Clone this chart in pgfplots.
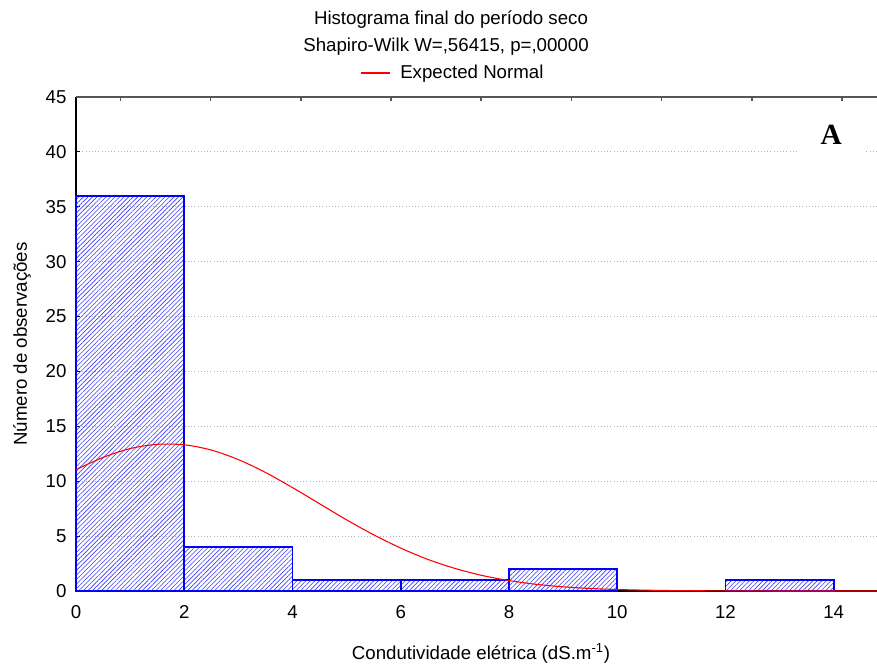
\documentclass[border=0pt]{standalone}
\usepackage{fontspec}
\setmainfont{Liberation Sans}
\newfontfamily\serifA{Liberation Serif}
\usepackage{pgfplots}
\pgfplotsset{compat=1.18}
\usetikzlibrary{patterns.meta}
\definecolor{topgray}{RGB}{85,85,85}
\definecolor{hatch}{RGB}{60,60,255}
\begin{document}
\begin{tikzpicture}[font=\fontsize{14}{16.8}\selectfont]
\begin{axis}[
  at={(0,0)}, anchor=south west,
  scale only axis, width=600.75pt, height=370.5pt,
  xmin=0, xmax=14.8, ymin=0, ymax=45,
  axis x line*=bottom, axis y line*=left,
  x axis line style={black, line width=1pt, -},
  y axis line style={black, line width=0.8pt, -},
  xtick={0,2,4,6,8,10,12,14},
  ytick={0,5,10,15,20,25,30,35,40,45},
  major x tick style={draw=none},
  major y tick style={black, line width=0.6pt},
  tick align=inside, major tick length=3pt,
  ymajorgrids,
  grid style={gray!60, dotted, line width=0.6pt},
  /pgf/number format/assume math mode=true,
  tick label style={font=\fontsize{14}{16.8}\selectfont},
  xticklabel style={yshift=-7.3pt},
  yticklabel style={xshift=-3.6pt},
  xlabel={Condutividade elétrica (dS.m\textsuperscript{-1})},
  ylabel={Número de observações},
  xlabel style={at={(axis description cs:0.5056,-0.1377)}, anchor=base},
  ylabel style={at={(axis description cs:-0.0674,0.5)}, anchor=center},
  clip=false,
]
\addplot[ybar interval, draw=blue, line width=1.3pt,
  pattern={Lines[angle=45,distance=2.4pt,line width=0.45pt]}, pattern color=hatch]
  coordinates {(0,36) (2,4) (4,1) (6,1) (8,2) (10,2)};
\addplot[ybar interval, draw=blue, line width=1.3pt,
  pattern={Lines[angle=45,distance=2.4pt,line width=0.45pt]}, pattern color=hatch]
  coordinates {(12,1) (14,1)};
\addplot[red, line width=0.8pt, smooth] coordinates {
  (0,11.05) (0.5,12.17) (1,12.97) (1.5,13.36) (2,13.32) (2.5,12.84)
  (3,11.97) (3.5,10.80) (4,9.42) (4.5,7.95) (5,6.48) (5.5,5.12)
  (6,3.91) (6.5,2.88) (7,2.06) (7.5,1.42) (8,0.95) (8.5,0.61)
  (9,0.38) (9.5,0.23) (10,0.136) (10.5,0.08) (11,0.042) (12,0.011)
  (13,0.003) (14,0.0006) (14.8,0)
};
\node[fill=white, minimum width=50pt, minimum height=34pt, inner sep=0pt,
  font=\serifA\bfseries\fontsize{22}{24}\selectfont]
  at (axis cs:13.955,41.6) {A};
\end{axis}
\begin{axis}[
  at={(0,0)}, anchor=south west,
  scale only axis, width=600.75pt, height=370.5pt,
  xmin=0, xmax=14.8, ymin=0, ymax=45,
  axis x line*=top, hide y axis,
  x axis line style={topgray, line width=1.6pt, -},
  xtick={0.82,2.487,4.153,5.82,7.487,9.153,10.82,12.487,14.153},
  xticklabels={},
  major x tick style={topgray, line width=1.2pt},
  tick align=inside, major tick length=3pt,
]
\addplot[draw=none] coordinates {(0,0)};
\end{axis}
\node[anchor=base] at (281.25pt,424.5pt) {Histograma final do período seco};
\node[anchor=base] at (277.5pt,404.5pt) {Shapiro-Wilk W=,56415, p=,00000};
\draw[red, line width=0.8pt] (213.75pt,388.5pt) -- (235.5pt,388.5pt);
\node[anchor=base west, inner sep=0pt] at (243pt,384pt) {Expected Normal};
\pgfresetboundingbox
\path[use as bounding box] (-57pt,-55.5pt) rectangle (600.75pt,443.25pt);
\end{tikzpicture}
\end{document}
